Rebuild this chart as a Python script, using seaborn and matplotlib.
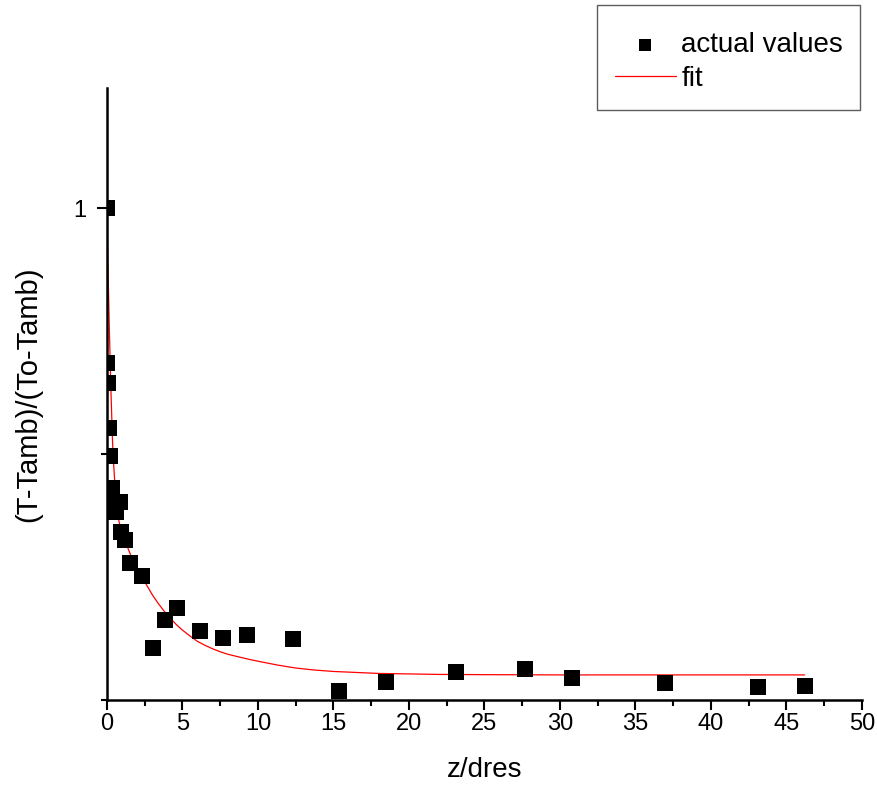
import numpy as np
import pandas as pd
import matplotlib
matplotlib.use('Agg')
import matplotlib.pyplot as plt
from matplotlib.ticker import MultipleLocator
import seaborn as sns

z_actual = [0.0, 0.0, 0.07, 0.13, 0.22, 0.31, 0.5, 0.86, 0.6, 0.93, 1.19, 1.52,
            2.29, 3.07, 3.84, 4.61, 6.16, 7.66, 9.25, 12.3, 15.38, 18.48,
            23.09, 27.7, 30.8, 36.95, 43.1, 46.2]
t_actual = [1.0, 0.684, 0.644, 0.552, 0.496, 0.430, 0.400, 0.403, 0.383, 0.342,
            0.325, 0.278, 0.253, 0.106, 0.163, 0.188, 0.141, 0.126, 0.133, 0.123,
            0.019, 0.037, 0.056, 0.064, 0.045, 0.035, 0.027, 0.028]

# fit curve
z_fit = [0.0, 0.05, 0.1, 0.15, 0.2, 0.25, 0.3, 0.35, 0.4, 0.5, 0.6, 0.7, 0.8,
         1.0, 1.3, 1.7, 2.2, 2.6, 3.0, 3.4, 3.8, 4.2, 4.6, 5.0, 5.5, 6.0, 6.5,
         7.0, 7.5, 8.0, 8.8, 9.5, 10.3, 11.3, 12.5, 13.7, 15.0, 16.5, 18.0,
         20.0, 22.0, 25.0, 30.0, 38.0, 46.2]
t_fit = [0.98, 0.90, 0.83, 0.76, 0.70, 0.64, 0.59, 0.54, 0.50, 0.45, 0.41, 0.383,
         0.362, 0.34, 0.315, 0.285, 0.255, 0.235, 0.214, 0.196, 0.180, 0.166,
         0.153, 0.142, 0.130, 0.119, 0.111, 0.104, 0.098, 0.093, 0.087, 0.082,
         0.077, 0.071, 0.065, 0.061, 0.058, 0.056, 0.054, 0.053, 0.052, 0.0515,
         0.051, 0.051, 0.051]

df_pts = pd.DataFrame({'z': z_actual, 't': t_actual})
df_fit = pd.DataFrame({'z': z_fit, 't': t_fit})

sns.set_style('ticks')
plt.rcParams['font.family'] = ['Liberation Sans', 'DejaVu Sans']
plt.rcParams['text.color'] = 'black'
plt.rcParams['axes.labelcolor'] = 'black'
plt.rcParams['xtick.color'] = 'black'
plt.rcParams['ytick.color'] = 'black'
plt.rcParams['axes.edgecolor'] = 'black'

fig = plt.figure(figsize=(8.78, 7.87), dpi=100)
ax = fig.add_axes([107/878, 1 - 700/787, 755/878, 612/787])

sns.scatterplot(data=df_pts, x='z', y='t', marker='s', s=135, color='black',
                edgecolor='black', linewidth=0, label='actual values', ax=ax, zorder=3)
sns.lineplot(data=df_fit, x='z', y='t', color='red', linewidth=0.9, sort=False,
             estimator=None, label='fit', ax=ax, zorder=2)

ax.set_xlim(0, 50)
ax.set_ylim(0, 1.244)
ax.xaxis.set_major_locator(MultipleLocator(5))
ax.xaxis.set_minor_locator(MultipleLocator(2.5))
ax.yaxis.set_minor_locator(MultipleLocator(0.5))
ax.set_yticks([1])
ax.set_yticklabels(['1'])

sns.despine(ax=ax)
for s in ['left', 'bottom']:
    ax.spines[s].set_linewidth(1.8)
ax.tick_params(axis='both', which='major', width=1.5, length=7.5, labelsize=17)
ax.tick_params(axis='both', which='minor', width=1.5, length=4)
ax.tick_params(axis='x', which='major', pad=1.5)
ax.tick_params(axis='y', which='major', pad=7)

ax.set_xlabel('z/dres', fontsize=20, labelpad=16)
ax.set_ylabel('(T-Tamb)/(To-Tamb)', fontsize=21, labelpad=23)

handles, labels = ax.get_legend_handles_labels()
ax.get_legend().remove()
leg = fig.legend(handles, labels, loc='upper left',
                 bbox_to_anchor=(597/878, 1 - 5/787), fontsize=20,
                 title=' ', title_fontsize=1,
                 frameon=True, fancybox=False, edgecolor='#333333',
                 handlelength=2.2, handletextpad=0.2, borderpad=0.63,
                 labelspacing=0.3, markerscale=0.75, borderaxespad=0)
leg.get_frame().set_linewidth(1.0)

fig.savefig('out.png', dpi=100)
